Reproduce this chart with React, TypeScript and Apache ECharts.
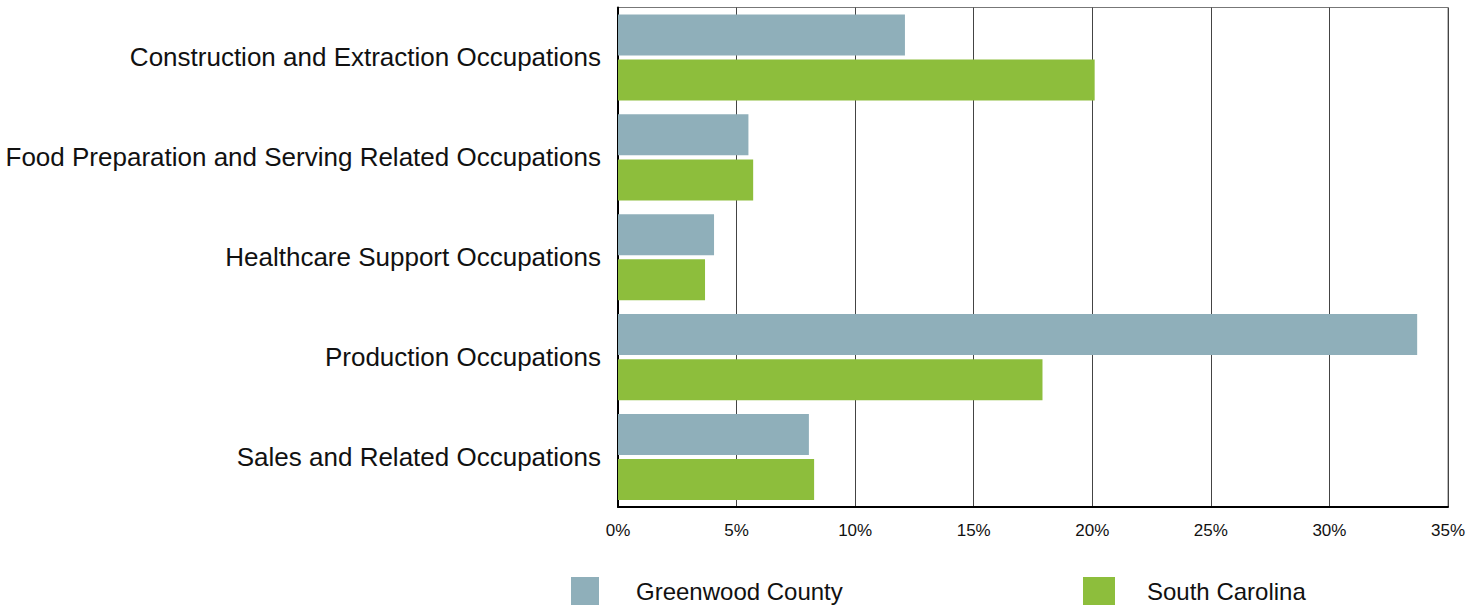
import React, { useEffect, useRef } from "react";
import * as echarts from "echarts";

const categories = [
  "Construction and Extraction Occupations",
  "Food Preparation and Serving Related Occupations",
  "Healthcare Support Occupations",
  "Production Occupations",
  "Sales and Related Occupations",
];
const greenwood = [12.1, 5.5, 4.05, 33.7, 8.05];
const southCarolina = [20.1, 5.7, 3.67, 17.9, 8.27];
const seriesNames = ["Greenwood County", "South Carolina"];

export default function App() {
  const ref = useRef<HTMLDivElement>(null);
  useEffect(() => {
    if (!ref.current) return;
    const chart = echarts.init(ref.current, null, { renderer: "svg" });
    const font = "'Liberation Sans', Arial, sans-serif";
    chart.setOption({
      animation: false,
      grid: {
        left: 618,
        right: 33,
        top: 7.5,
        bottom: 99,
        show: true,
        borderColor: "#777",
        borderWidth: 1,
      },
      legend: [
        {
          data: [seriesNames[0]],
          left: 571,
          top: 577,
          padding: 0,
          icon: "rect",
          itemWidth: 28,
          itemHeight: 28,
          textStyle: { fontFamily: font, fontSize: 24, color: "#111", padding: [0, 0, 0, 32] },
        },
        {
          data: [seriesNames[1]],
          left: 1083,
          top: 577,
          padding: 0,
          icon: "rect",
          itemWidth: 32,
          itemHeight: 28,
          textStyle: { fontFamily: font, fontSize: 24, color: "#111", padding: [0, 0, 0, 27] },
        },
      ],
      xAxis: {
        type: "value",
        min: 0,
        max: 35,
        interval: 5,
        axisLine: { show: true, lineStyle: { color: "#000", width: 2 } },
        axisTick: { show: false },
        axisLabel: {
          formatter: "{value}%",
          fontFamily: font,
          fontSize: 17,
          color: "#111",
          margin: 15,
        },
        splitLine: { show: true, lineStyle: { color: "#444", width: 1 } },
      },
      yAxis: {
        type: "category",
        data: categories,
        inverse: true,
        axisLine: { show: true, lineStyle: { color: "#000", width: 2 } },
        axisTick: { show: false },
        axisLabel: {
          fontFamily: font,
          fontSize: 26,
          color: "#111",
          margin: 17,
        },
        splitLine: { show: false },
      },
      series: [
        {
          name: seriesNames[0],
          type: "bar",
          data: greenwood,
          barWidth: 41,
          barGap: "10%",
          itemStyle: { color: "#8FAFBA" },
        },
        {
          name: seriesNames[1],
          type: "bar",
          data: southCarolina,
          barWidth: 41,
          barGap: "10%",
          itemStyle: { color: "#8DBE3C" },
        },
      ],
    });
    return () => chart.dispose();
  }, []);
  return <div ref={ref} style={{ width: 1481, height: 606, position: "absolute", left: 0, top: 0 }} />;
}
